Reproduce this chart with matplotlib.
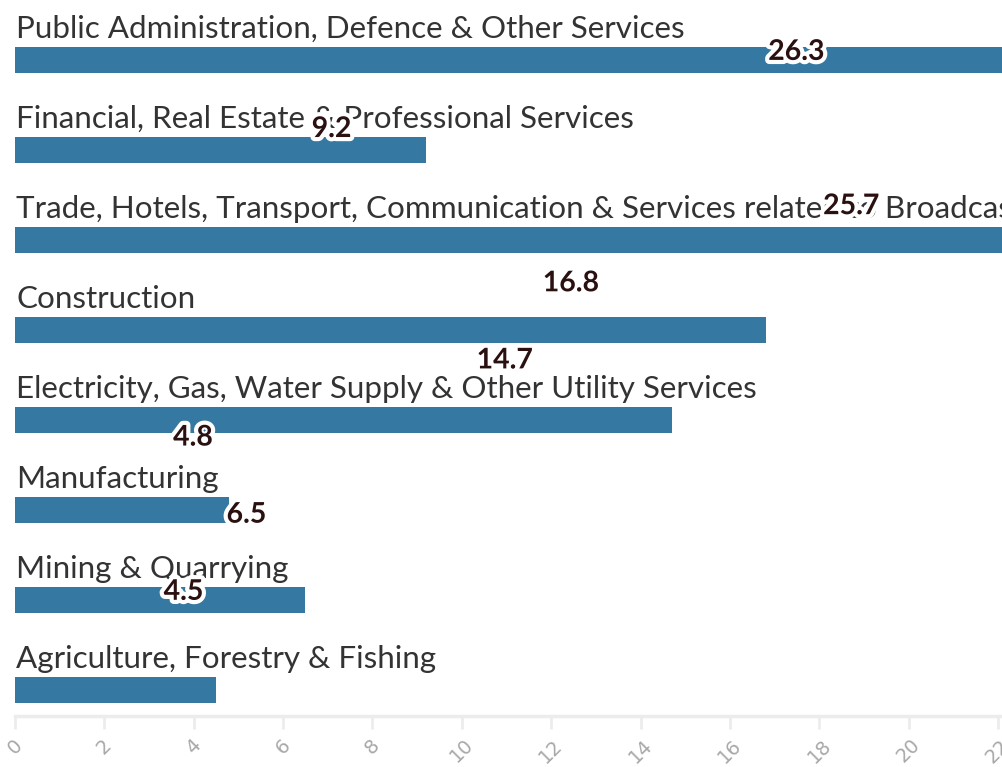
import matplotlib.pyplot as plt
import matplotlib.patheffects as pe

# ── Data ──────────────────────────────────────────────────────────────────────
sectors = [
    "Public Administration, Defence & Other Services",
    "Financial, Real Estate & Professional Services",
    "Trade, Hotels, Transport, Communication & Services related to Broadcasting",
    "Construction",
    "Electricity, Gas, Water Supply & Other Utility Services",
    "Manufacturing",
    "Mining & Quarrying",
    "Agriculture, Forestry & Fishing",
]
values = [26.3, 9.2, 25.7, 16.8, 14.7, 4.8, 6.5, 4.5]
ticks = list(range(0, 24, 2))

# ── Style ─────────────────────────────────────────────────────────────────────
BAR_COLOR = "#3578a1"
LABEL_COLOR = "#333333"
VALUE_COLOR = "#2a1010"
AXIS_COLOR = "#ececec"
TICK_COLOR = "#a8a8a8"
BAR_H = 0.29

W, H = 1002, 767
fig = plt.figure(figsize=(W / 100, H / 100), dpi=100)

# axes runs off the right edge, bars past ~22 get clipped
px_per_unit = 44.68
left_px, axis_px = 15, 716
ax = fig.add_axes([left_px / W, 1 - axis_px / H, 1 - left_px / W, axis_px / H])
ax.set_xlim(0, (W - left_px) / px_per_unit)
ax.set_ylim((axis_px - 60) / 90, -60 / 90)

pos = list(range(len(sectors)))
ax.barh(pos, values, height=BAR_H, color=BAR_COLOR, zorder=2)

for i, name in enumerate(sectors):
    ax.text(0.03, i - BAR_H / 2 - 0.1, name, fontsize=22.6, family="Lato",
            color=LABEL_COLOR, va="baseline", ha="left", zorder=3, clip_on=False)

# value labels sit on a compressed grid, slightly off from the bars
nudge = {0: -1.65}
for i, v in enumerate(values):
    x = 0.705 * v + 0.6 + nudge.get(i, 0)
    y = 0.857 * i - 0.09
    ax.text(x, y, f"{v}", fontsize=20.5, family="Lato", fontweight="bold",
            color=VALUE_COLOR, ha="center", va="center", zorder=4,
            path_effects=[pe.withStroke(linewidth=6, foreground="white")])

for s in ["top", "right", "left"]:
    ax.spines[s].set_visible(False)
ax.spines["bottom"].set_color(AXIS_COLOR)
ax.spines["bottom"].set_linewidth(2.5)
ax.set_yticks([])
ax.set_xticks(ticks)
ax.set_xticklabels([str(t) for t in ticks], rotation=45, ha="center",
                   va="top", fontsize=14, color=TICK_COLOR)
ax.tick_params(axis="x", length=9, width=2, color=AXIS_COLOR, pad=5)

fig.savefig("out.png", dpi=100)
